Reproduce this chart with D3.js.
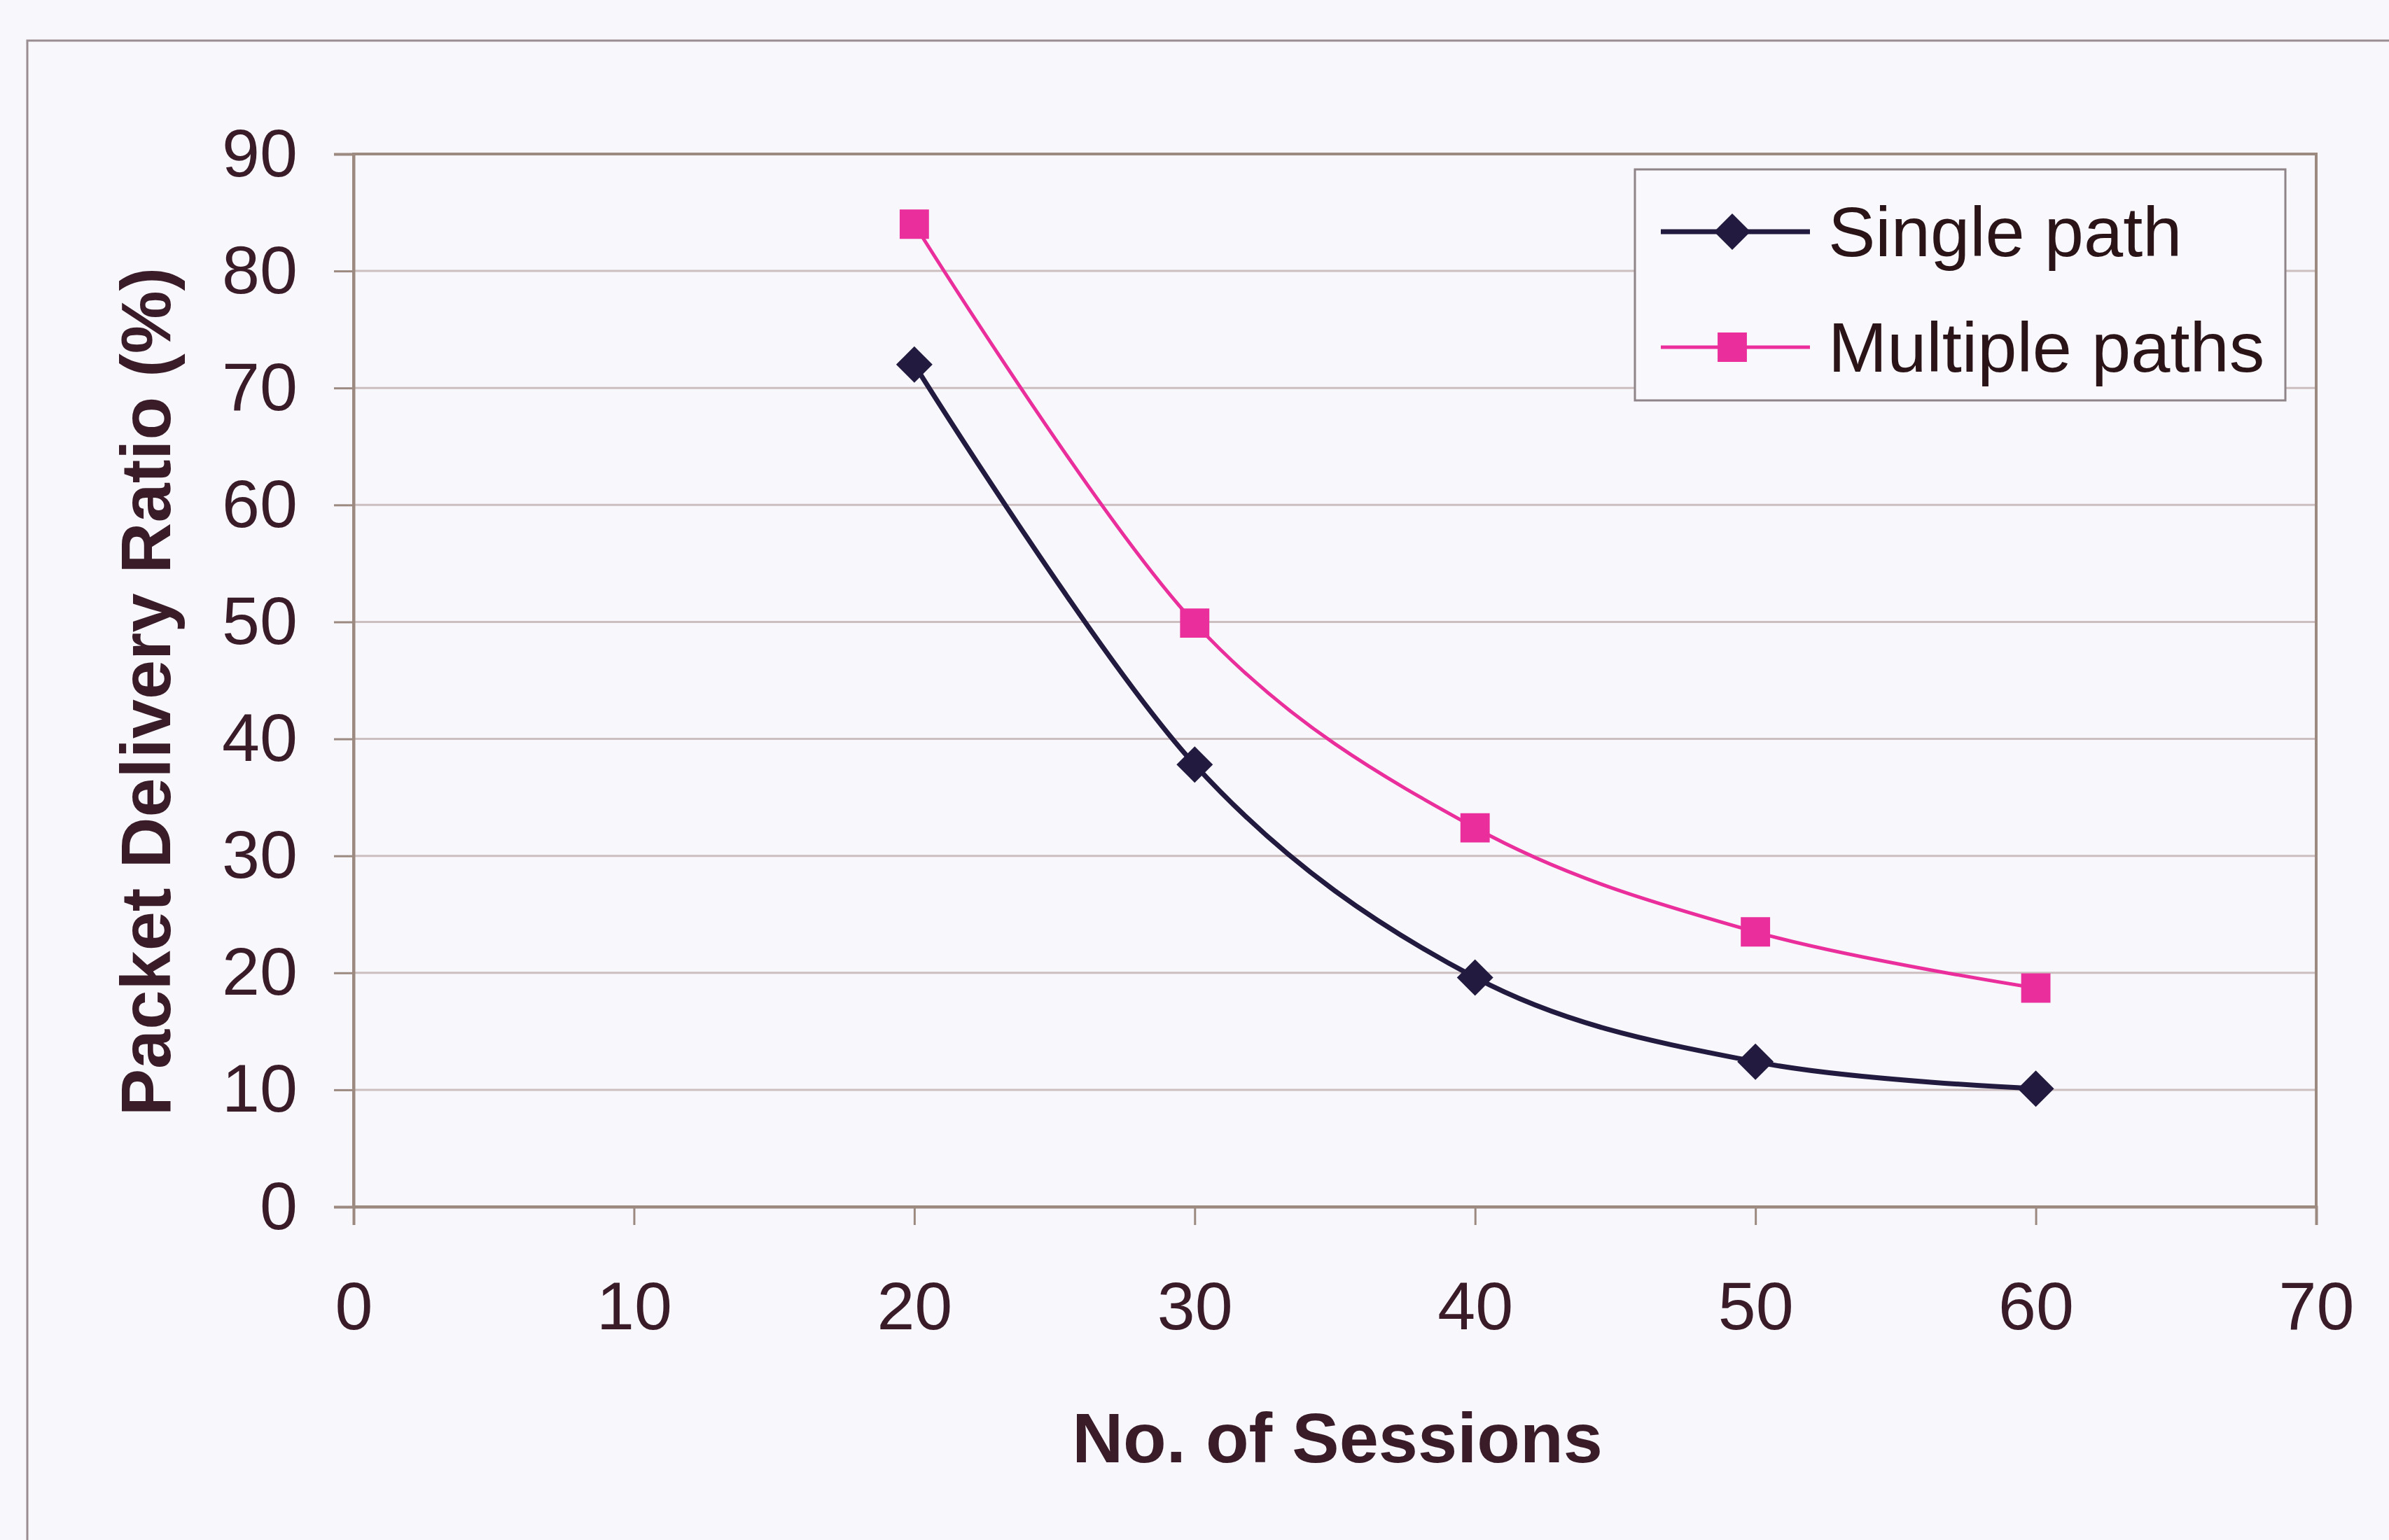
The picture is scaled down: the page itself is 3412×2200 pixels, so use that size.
<!DOCTYPE html>
<html>
<head>
<meta charset="utf-8">
<script src="https://cdn.jsdelivr.net/npm/d3@7"></script>
<style>
  html, body { margin: 0; padding: 0; background: #f7f7fc; }
  #chart { width: 3412px; height: 2200px; }
  text { font-family: "Liberation Sans", Arial, sans-serif; }
</style>
</head>
<body>
<div id="chart"></div>
<script>
//Datos
const sessions = [20, 30, 40, 50, 60];
const singlePath = [72, 37.8, 19.6, 12.4, 10.1];
const multiplePaths = [84, 49.9, 32.4, 23.5, 18.7];
const seriesNames = ['Single path', 'Multiple paths'];
const xTicks = [0, 10, 20, 30, 40, 50, 60, 70];
const yTicks = [0, 10, 20, 30, 40, 50, 60, 70, 80, 90];

//Colores
const COLOR_SINGLE = '#221a3f',
COLOR_MULTI = '#ea2f9c',
COLOR_TEXT = '#3a1c28',
COLOR_AXIS = '#9c8a80',
COLOR_GRID = '#cdbfc0';

let margin = {top: 220, right: 104, bottom: 476, left: 505},
    width = 3412 - margin.left - margin.right,
    height = 2200 - margin.top - margin.bottom;

let root = d3.select('#chart')
    .append('svg')
    .attr('width', 3412)
    .attr('height', 2200);

//Marco exterior del gráfico
root.append('path')
    .attr('d', 'M39,2200 L39,58 L3412,58')
    .attr('fill', 'none')
    .attr('stroke', '#9a8c90')
    .attr('stroke-width', 3);

let svg = root.append('g')
    .attr('transform', 'translate(' + margin.left + ',' + margin.top + ')');

let x = d3.scaleLinear()
    .domain([0, 70])
    .range([0, width]);

let y = d3.scaleLinear()
    .domain([0, 90])
    .range([height, 0]);

//Rejilla
svg.append('g')
    .selectAll('line')
    .data(yTicks.slice(1, -1))
    .enter()
    .append('line')
    .attr('x1', 0)
    .attr('x2', width)
    .attr('y1', d => y(d))
    .attr('y2', d => y(d))
    .attr('stroke', COLOR_GRID)
    .attr('stroke-width', 3);

//Borde del área
svg.append('rect')
    .attr('x', 0)
    .attr('y', 0)
    .attr('width', width)
    .attr('height', height)
    .attr('fill', 'none')
    .attr('stroke', COLOR_AXIS)
    .attr('stroke-width', 4);

//Ejes
let xAxis = svg.append('g')
    .attr('transform', 'translate(0,' + height + ')')
    .call(d3.axisBottom(x).tickValues(xTicks).tickSize(26).tickPadding(80));

let yAxis = svg.append('g')
    .call(d3.axisLeft(y).tickValues(yTicks).tickSize(28).tickPadding(52));

[xAxis, yAxis].forEach(function(a) {
    a.select('.domain').attr('stroke', COLOR_AXIS).attr('stroke-width', 4);
    a.selectAll('.tick line').attr('stroke', COLOR_AXIS).attr('stroke-width', 3);
    a.selectAll('.tick text')
        .attr('fill', COLOR_TEXT)
        .style('font-size', '97px')
        .style('font-family', '"Liberation Sans", Arial, sans-serif');
});

//Títulos
root.append('text')
    .attr('x', 1910)
    .attr('y', 2089)
    .attr('text-anchor', 'middle')
    .attr('fill', COLOR_TEXT)
    .style('font-size', '101px')
    .style('font-weight', 'bold')
    .text('No. of Sessions');

root.append('text')
    .attr('transform', 'translate(243,988) rotate(-90)')
    .attr('text-anchor', 'middle')
    .attr('fill', COLOR_TEXT)
    .style('font-size', '101px')
    .style('font-weight', 'bold')
    .text('Packet Delivery Ratio (%)');

//Líneas
let line = d3.line()
    .x(d => x(d[0]))
    .y(d => y(d[1]))
    .curve(d3.curveCatmullRom.alpha(0));

let singleData = sessions.map((s, i) => [s, singlePath[i]]);
let multiData = sessions.map((s, i) => [s, multiplePaths[i]]);

svg.append('path')
    .datum(multiData)
    .attr('d', line)
    .attr('fill', 'none')
    .attr('stroke', COLOR_MULTI)
    .attr('stroke-width', 5);

svg.append('path')
    .datum(singleData)
    .attr('d', line)
    .attr('fill', 'none')
    .attr('stroke', COLOR_SINGLE)
    .attr('stroke-width', 7);

svg.selectAll('.single-mark')
    .data(singleData)
    .enter()
    .append('path')
    .attr('class', 'single-mark')
    .attr('transform', d => 'translate(' + x(d[0]) + ',' + y(d[1]) + ') rotate(45)')
    .attr('d', d3.symbol().type(d3.symbolSquare).size(1350))
    .attr('fill', COLOR_SINGLE);

svg.selectAll('.multi-mark')
    .data(multiData)
    .enter()
    .append('path')
    .attr('class', 'multi-mark')
    .attr('transform', d => 'translate(' + x(d[0]) + ',' + y(d[1]) + ')')
    .attr('d', d3.symbol().type(d3.symbolSquare).size(1750))
    .attr('fill', COLOR_MULTI);

//Leyenda
let legend = root.append('g')
    .attr('transform', 'translate(2335,242)');

legend.append('rect')
    .attr('width', 929)
    .attr('height', 330)
    .attr('fill', '#f8f8fd')
    .attr('stroke', '#8f8488')
    .attr('stroke-width', 3);

let items = legend.selectAll('.item')
    .data(seriesNames)
    .enter()
    .append('g')
    .attr('class', 'item')
    .attr('transform', (d, i) => 'translate(0,' + (89 + i * 165) + ')');

items.append('line')
    .attr('x1', 37)
    .attr('x2', 250)
    .attr('stroke', (d, i) => i === 0 ? COLOR_SINGLE : COLOR_MULTI)
    .attr('stroke-width', (d, i) => i === 0 ? 7 : 5);

items.append('path')
    .attr('transform', (d, i) => 'translate(139,0)' + (i === 0 ? ' rotate(45)' : ''))
    .attr('d', (d, i) => d3.symbol().type(d3.symbolSquare).size(i === 0 ? 1350 : 1750)())
    .attr('fill', (d, i) => i === 0 ? COLOR_SINGLE : COLOR_MULTI);

items.append('text')
    .attr('x', 276)
    .attr('y', 35)
    .attr('fill', '#2a1418')
    .style('font-size', '101px')
    .text(d => d);
</script>
</body>
</html>
